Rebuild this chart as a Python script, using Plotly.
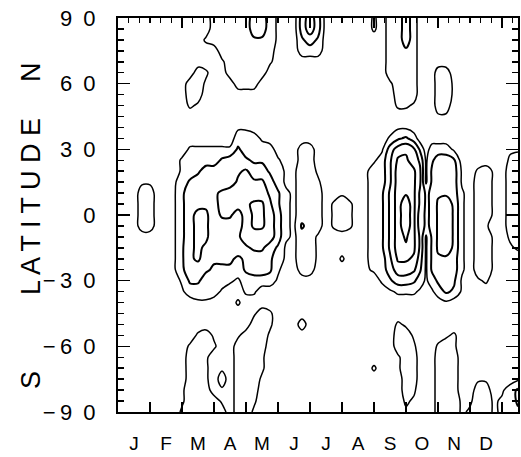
import plotly.graph_objects as go

# ---- grid coordinates (months from 1 Jan; latitude in degrees) ----
months_grid = [0.0, 0.25, 0.5, 0.75, 1.0, 1.25, 1.5, 1.75, 2.0, 2.25, 2.5, 2.75,
               3.0, 3.25, 3.5, 3.75, 4.0, 4.25, 4.5, 4.75, 5.0, 5.25, 5.5, 5.75,
               6.0, 6.25, 6.5, 6.75, 7.0, 7.25, 7.5, 7.75, 8.0, 8.25, 8.5, 8.75,
               9.0, 9.25, 9.4375, 9.625, 9.8125, 10.0, 10.25, 10.5, 10.75, 11.0,
               11.25, 11.5, 11.75, 12.0, 12.25, 12.5]
latitudes = [90, 85, 80, 75, 70, 65, 60, 55, 50, 45, 40, 35, 30, 25, 20, 15, 10, 5, 0,
             -5, -10, -15, -20, -25, -30, -35, -40, -45, -50, -55, -60, -65, -70,
             -75, -80, -85, -90]

# field values, one string per latitude row (90N -> 90S),
# one base-36 character per grid column
field_rows = [
    "1111 1111 1111 4444 4774 2117 a711 1111 3144 7411 1111 1111 1111",  # 90
    "1111 1111 1111 4444 4774 2117 a711 1111 3144 7411 1111 1111 1111",  # 85
    "1111 1111 1113 4444 4554 2115 7511 1111 1144 7411 1111 1111 1111",  # 80
    "1111 1111 1111 1444 4444 1114 4411 1111 1144 5411 1111 1111 1111",  # 75
    "1111 1111 1111 1244 4443 1111 1111 1111 1144 4411 1111 1111 1111",  # 70
    "1111 1111 1143 1144 4441 1111 1111 1111 1144 4411 1441 1111 1111",  # 65
    "1111 1111 1442 1114 4411 1111 1111 1111 1124 4411 1442 1111 1111",  # 60
    "1111 1111 1441 1111 1111 1111 1111 1111 1114 4411 1442 1111 1111",  # 55
    "1111 1111 1321 1111 1111 1111 1111 1111 1113 3211 1441 1111 1111",  # 50
    "1111 1111 1111 1111 1111 1111 1111 1111 1111 1111 1221 1111 1111",  # 45
    "1111 1111 1111 1112 2111 1111 1111 1111 1112 2111 1111 1111 1111",  # 40
    "1111 1111 1111 1114 4421 1111 1111 1111 1135 6411 1111 1111 1111",  # 35
    "1111 1111 1333 3336 4444 1114 4111 1111 127a b951 4442 1111 1122",  # 30
    "1111 1111 3444 4677 6554 3114 4111 1111 248c ca82 5776 1111 1134",  # 25
    "1111 1111 3457 7778 9775 4224 4211 1112 448d dc92 6887 2134 2144",  # 20
    "1112 2112 4677 7779 a997 4224 4311 1112 448d dc92 6887 2144 2144",  # 15
    "1114 4112 5777 89aa aaa8 6324 4411 2112 459d ec85 6887 3144 2144",  # 10
    "1114 4112 5778 89aa bcc9 6324 4413 4312 459d hc85 69a8 3144 2144",  # 5
    "1114 4112 57a9 7997 acca 7324 4413 4312 459d hc75 69b8 3144 2144",  # 0
    "1114 4112 57a9 7777 acca 7326 4413 4312 459d hc75 69b8 3143 1144",  # -5
    "1111 1112 57a9 7778 aaaa 7324 4211 1112 459d fc82 69b8 3144 2134",  # -10
    "1111 1112 5898 7777 8997 5224 4211 1112 459d ec82 69a8 3144 2123",  # -15
    "1111 1112 5897 6665 6776 4224 4211 3112 448c cb72 6887 3144 2111",  # -20
    "1111 1112 5776 5554 6776 3114 4111 1112 347a a962 6777 3144 2111",  # -25
    "1111 1111 3664 4432 4444 2111 1111 1111 1357 7642 4676 2123 1111",  # -30
    "1111 1111 2444 4211 3311 1111 1111 1111 1123 3321 2465 2111 1111",  # -35
    "1111 1111 1122 1113 1111 1111 1111 1111 1111 1111 1121 1111 1111",  # -40
    "1111 1111 1111 1111 1243 1111 1111 1111 1111 1111 1111 1111 1111",  # -45
    "1111 1111 1111 1111 1443 1114 1111 1111 1113 2111 1111 1111 1111",  # -50
    "1111 1111 1134 2112 4442 1111 1111 1111 1114 4211 1123 1111 1111",  # -55
    "1111 1111 1344 3114 4441 1111 1111 1111 1114 4311 1343 1111 1111",  # -60
    "1111 1111 1443 1114 4431 1111 1111 1111 1112 4411 1444 1111 1111",  # -65
    "1111 1111 1443 1214 4431 1111 1111 1111 3112 4411 1444 1111 1111",  # -70
    "1111 1111 1443 1414 4421 1111 1111 1111 1111 4411 1444 1122 1112",  # -75
    "1111 1111 2444 1214 4411 1111 1111 1111 1111 4311 1444 1144 1246",  # -80
    "1111 1111 2444 4214 4311 1111 1111 1111 1111 3211 1444 2244 2346",  # -85
    "1111 1111 3444 4414 4211 1111 1111 1111 1111 2111 1444 2344 2345",  # -90
]

month_labels = ["J", "F", "M", "A", "M", "J", "J", "A", "S", "O", "N", "D"]
month_centres = [0.5, 1.5, 2.5, 3.5, 4.5, 5.5, 6.5, 7.5, 8.5, 9.5, 10.5, 11.5]
month_bounds = [1, 2, 3, 4, 5, 6, 7, 8, 9, 10, 11, 12]
lat_ticks = [-90, -60, -30, 0, 30, 60, 90]
lat_tick_text = ["\u2212\u20099\u20020", "\u2212\u20096\u20020", "\u2212\u20093\u20020", "0",
                 "3\u20020", "6\u20020", "9\u20020"]
lat_minor = [-85, -80, -75, -70, -65, -55, -50, -45, -40, -35, -25, -20, -15, -10, -5,
             5, 10, 15, 20, 25, 35, 40, 45, 50, 55, 65, 70, 75, 80, 85]

z = []
for row in field_rows:
    cells = row.replace(" ", "")
    assert len(cells) == len(months_grid), (row, len(cells))
    z.append([int(ch, 36) for ch in cells])
assert len(z) == len(latitudes)

lat_asc = latitudes[::-1]
z_asc = z[::-1]

FONT = "Liberation Sans, Arial, Helvetica, sans-serif"

fig = go.Figure()
fig.add_trace(go.Contour(
    x=months_grid, y=lat_asc, z=z_asc,
    contours=dict(start=2.5, end=2.5, size=3, coloring="none"),
    line=dict(color="black", width=1.5, smoothing=1.0),
    showscale=False, hoverinfo="skip"))
fig.add_trace(go.Contour(
    x=months_grid, y=lat_asc, z=z_asc, xaxis="x2",
    contours=dict(start=5.5, end=14.5, size=3, coloring="none"),
    line=dict(color="black", width=2.0, smoothing=1.0),
    showscale=False, hoverinfo="skip"))

fig.update_layout(
    width=521, height=457,
    margin=dict(l=118, r=3, t=18, b=45, autoexpand=False),
    paper_bgcolor="white", plot_bgcolor="white",
    showlegend=False, hovermode=False,
    font=dict(family=FONT, color="black"),
    xaxis=dict(
        range=[0, 12.5], tickmode="array", tickvals=month_centres, ticktext=month_labels,
        ticks="", showline=True, linecolor="black", linewidth=2, mirror=False,
        showgrid=False, zeroline=False, automargin=False,
        tickfont=dict(family=FONT, size=19, color="black"),
        ticklabelstandoff=13, ticklabeloverflow="allow",
        minor=dict(tickmode="array", tickvals=month_bounds, ticks="inside", ticklen=10,
                   tickwidth=1.5, tickcolor="black", showgrid=False),
    ),
    xaxis2=dict(
        overlaying="x", side="top", anchor="y", range=[0, 12.5],
        tickmode="linear", tick0=0, dtick=2, ticks="inside", ticklen=10,
        tickwidth=1.5, tickcolor="black", showticklabels=False,
        showline=True, linecolor="black", linewidth=2,
        showgrid=False, zeroline=False, automargin=False,
        minor=dict(tick0=0, dtick=1 / 3, ticks="inside", ticklen=5,
                   tickwidth=1.5, tickcolor="black", showgrid=False),
    ),
    yaxis=dict(
        range=[-90, 90], tickmode="array", tickvals=lat_ticks, ticktext=lat_tick_text,
        ticks="inside", ticklen=12, tickwidth=1.5, tickcolor="black",
        showline=True, linecolor="black", linewidth=2, mirror="ticks",
        showgrid=False, zeroline=False, automargin=False,
        tickfont=dict(family=FONT, size=22, color="black"),
        ticklabelstandoff=16, ticklabeloverflow="allow",
        minor=dict(tickmode="array", tickvals=lat_minor, ticks="inside", ticklen=6,
                   tickwidth=1.5, tickcolor="black", showgrid=False),
    ),
)

title_font = dict(family=FONT, size=27, color="black")
for txt, ypos in [("N", 0.863), ("L A T I T U D E", 0.52), ("S", 0.081)]:
    fig.add_annotation(text=txt, xref="paper", yref="paper", x=-0.2175, y=ypos,
                       xanchor="center", yanchor="middle", textangle=-90,
                       showarrow=False, font=title_font)

# remove the browser's default 8px body margin so the figure fills the window exactly
fig.write_html("out.html", config={"displayModeBar": False, "staticPlot": True},
               post_script="document.body.style.margin='0px';")
